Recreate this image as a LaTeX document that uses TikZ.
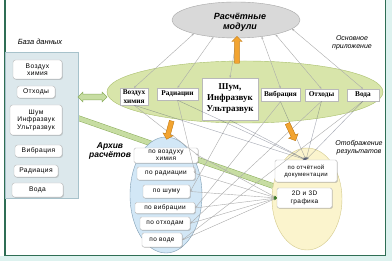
\documentclass[tikz,border=0pt]{standalone}
\usepackage{fontspec}
\setmainfont{Liberation Serif}
\setsansfont{Liberation Sans}
\newfontfamily\widesans[LetterSpace=6]{Liberation Sans}
\usetikzlibrary{shapes.geometric,shapes.arrows,shadows,arrows.meta}

\definecolor{frameC}{HTML}{2F6E55}
\definecolor{outC}{HTML}{DDF2EF}
\definecolor{topF}{HTML}{D9D9D9}
\definecolor{topD}{HTML}{A6A6A6}
\definecolor{grnF}{HTML}{D8E5AA}
\definecolor{grnD}{HTML}{A9BF6C}
\definecolor{panF}{HTML}{DCE8EC}
\definecolor{panD}{HTML}{A7C2CB}
\definecolor{arcF}{HTML}{D2E7F6}
\definecolor{arcD}{HTML}{7E9DB3}
\definecolor{disF}{HTML}{FBF4CD}
\definecolor{disD}{HTML}{D3C98A}
\definecolor{orgF}{HTML}{F2A431}
\definecolor{orgD}{HTML}{C27A12}
\definecolor{bandF}{HTML}{C7DDA2}
\definecolor{bandD}{HTML}{8CAE5E}
\definecolor{lineC}{HTML}{ABABAB}
\definecolor{darkL}{HTML}{5A6275}
\definecolor{tipG}{HTML}{3F7A2A}

\begin{document}
\begin{tikzpicture}[x=1pt,y=-1pt,
  shd/.style={drop shadow={shadow xshift=0.8pt,shadow yshift=-0.8pt,opacity=0.35,fill=gray}},
  gbox/.style={draw=gray!55, fill=white, inner sep=0.5pt, align=center, shd,
    font=\bfseries\fontsize{7.3}{8.3}\selectfont},
  pbox/.style={draw=gray!55, fill=white, rounded corners=2.5pt, inner sep=0.5pt, align=center, shd,
    font=\widesans\fontsize{6.7}{7.4}\selectfont},
  abox/.style={draw=gray!55, fill=white, rounded corners=1.5pt, inner sep=0.5pt, align=center, shd,
    font=\widesans\fontsize{6.5}{7}\selectfont},
  lbl/.style={font=\sffamily\itshape\fontsize{7}{8}\selectfont, align=center, inner sep=0pt},
  blbl/.style={font=\sffamily\bfseries\itshape\fontsize{8.5}{9.5}\selectfont, align=center, inner sep=0pt},
  thin/.style={draw=lineC, line width=0.4pt},
  tipa/.style={-{Stealth[length=2.4pt,width=2pt]}},
  tipb/.style={{Stealth[length=2.4pt,width=2pt]}-{Stealth[length=2.4pt,width=2pt]}},
  orgarrow/.style={single arrow, draw=orgD, fill=orgF, line width=0.4pt, inner sep=2.2pt,
    single arrow head extend=2.8pt},
]
\useasboundingbox (0,0) rectangle (392,261);
% background and frame
\fill[white] (0,0) rectangle (392,261);
\fill[outC] (386,0) rectangle (392,261);
\fill[outC] (0,256) rectangle (392,261);
\draw[frameC, line width=1.1pt] (5,0) -- (5,255.5) -- (385.5,255.5) -- (385.5,0);

% green band from database to display
\coordinate (bandS) at (78,118);
\coordinate (bandE) at (273,186);
\draw[draw=bandD, double=bandF, double distance=4.5pt, line width=0.5pt] (bandS) -- (bandE);

% ellipses
\node[ellipse, draw=topD, fill=topF, minimum width=128pt, minimum height=36pt, inner sep=0pt] (topE) at (236,20) {};
\node[blbl, font=\sffamily\bfseries\itshape\fontsize{9}{10}\selectfont] (topT) at (240,22) {Расчётные\\модули};
\node[ellipse, draw=grnD, fill=grnF, minimum width=276pt, minimum height=62pt, inner sep=0pt] (grnE) at (245,92) {};
\node[ellipse, draw=arcD, fill=arcF, minimum width=72pt, minimum height=116pt, inner sep=0pt] (arcE) at (166,195) {};
\node[ellipse, draw=disD, fill=disF, minimum width=70pt, minimum height=102pt, inner sep=0pt] (disE) at (307,199) {};

% database panel
\node[draw=panD, fill=panF, minimum width=73pt, minimum height=146pt, inner sep=0pt] (panel) at (41.5,125) {};

% labels
\node[lbl, font=\sffamily\itshape\fontsize{7.5}{8.5}\selectfont] (lDB) at (40,42) {База данных};
\node[lbl] (lMain) at (352,43) {Основное\\приложение};
\node[lbl] (lDisp) at (359,148) {Отображение\\результатов};
\node[blbl] (lArc) at (110,151) {Архив\\расчётов};

% green-ellipse nodes
\node[gbox, minimum width=28pt, minimum height=17pt] (gA) at (134,96.5) {Воздух\\химия};
\node[gbox, minimum width=41pt, minimum height=12pt] (gB) at (177.5,94) {Радиации};
\node[gbox, minimum width=56pt, minimum height=42pt, font=\bfseries\fontsize{9}{11}\selectfont] (gC) at (230,99) {Шум,\\Инфразвук\\Ультразвук};
\node[gbox, minimum width=39pt, minimum height=13pt] (gD) at (280.5,95) {Вибрация};
\node[gbox, minimum width=33pt, minimum height=12pt] (gE) at (321.5,95) {Отходы};
\node[gbox, minimum width=32pt, minimum height=12pt] (gF) at (363,95) {Вода};

% database boxes
\node[pbox, minimum width=49pt, minimum height=19pt] (pA) at (37.5,69.5) {Воздух\\химия};
\node[pbox, minimum width=38pt, minimum height=12pt] (pB) at (36,92) {Отходы};
\node[pbox, minimum width=52pt, minimum height=30pt] (pC) at (36,120) {Шум\\Инфразвук\\Ультразвук};
\node[pbox, minimum width=47pt, minimum height=12pt] (pD) at (38.5,151) {Вибрация};
\node[pbox, minimum width=44pt, minimum height=12pt] (pE) at (36,171) {Радиация};
\node[pbox, minimum width=51pt, minimum height=14pt] (pF) at (37.5,190) {Вода};

% archive boxes
\node[abox, minimum width=64pt, minimum height=15pt] (aA) at (166,155.5) {по воздуху\\химия};
\node[abox, minimum width=58pt, minimum height=13pt] (aB) at (166,173.5) {по радиации};
\node[abox, minimum width=47pt, minimum height=13pt] (aC) at (166.5,191.5) {по шуму};
\node[abox, minimum width=60pt, minimum height=11pt] (aD) at (165,208) {по вибрации};
\node[abox, minimum width=50pt, minimum height=13pt] (aE) at (165,223.5) {по отходам};
\node[abox, minimum width=40pt, minimum height=14pt] (aF) at (162,240) {по воде};

% display boxes
\node[abox, minimum width=62pt, minimum height=22pt, font=\widesans\fontsize{6}{7}\selectfont] (dA) at (306,171) {по отчётной\\документации};
\node[abox, minimum width=55pt, minimum height=20pt, font=\widesans\fontsize{6.5}{7.5}\selectfont] (dB) at (304.5,198) {2D и 3D\\графика};

% thin connectors: top ellipse <-> nodes
\draw[thin, tipb] (topE.198) -- (gA.north);
\draw[thin, tipb] (topE.217) -- (gB.north);
\draw[thin, tipb] (topE.272) -- (gC.north);
\draw[thin, tipb] (topE.327) -- (gD.north);
\draw[thin, tipb] (topE.340) -- (gE.north);
\draw[thin, tipb] (topE.351) -- (gF.north);

% nodes -> archive
\foreach \g/\a in {gA/aA,gB/aB,gC/aC,gD/aD,gE/aE,gF/aF}{
  \draw[thin, tipa] (\g.south) -- (\a.east);
}
% nodes -> report documentation
\foreach \g in {gA,gB,gC,gD,gE,gF}{
  \draw[draw=darkL, draw opacity=0.55, line width=0.4pt, -{Stealth[length=3pt,width=2.4pt]}] (\g.south) -- (dA.north);
}
% archive -> graphics
\foreach \a in {aA,aB,aC,aD,aE,aF}{
  \draw[thin, -{Stealth[length=3pt,width=2.6pt,color=tipG]}] (\a.east) -- (dB.west);
}

% green double arrow database <-> main application
\node[double arrow, draw=bandD, fill=bandF, line width=0.5pt, minimum height=29pt, inner sep=2.6pt,
      double arrow head extend=2pt] (dArr) at (92.5,97) {};

% orange arrows
\node[orgarrow, minimum height=27pt, rotate=90] (oUp) at (237,51) {};
\node[orgarrow, minimum height=19pt, rotate=254.5] (oArc) at (169.5,129) {};
\node[orgarrow, minimum height=19pt, rotate=-64.8] (oDis) at (291,131) {};
\end{tikzpicture}
\end{document}
